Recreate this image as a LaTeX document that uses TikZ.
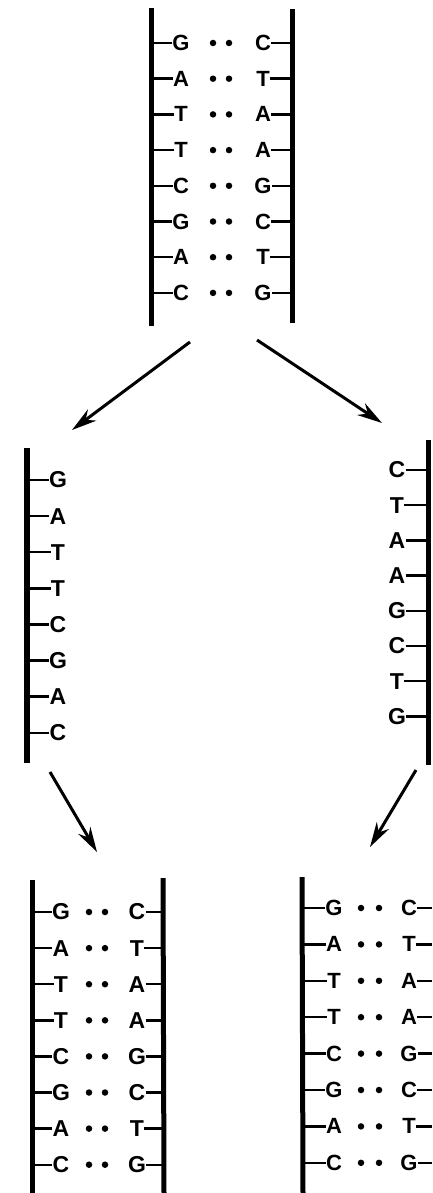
\documentclass[tikz,border=0pt]{standalone}
\usepackage{fontspec}
\setmainfont{Liberation Sans}
\usetikzlibrary{arrows.meta}

\begin{document}
\begin{tikzpicture}[
    x=1pt, y=-1pt,
    base/.style={font=\fontsize{22}{22}\selectfont\bfseries, inner sep=0pt},
    boldbase/.style={font=\fontsize{23}{23}\selectfont\bfseries, inner sep=0pt},
    pair/.style={circle, fill, inner sep=0pt, minimum size=6.5pt},
    rail/.style={line width=5pt},
    tick/.style={line width=2.4pt},
    arrow/.style={-{Stealth[length=25pt, width=14pt, inset=8pt]}, line width=3pt}
]
\useasboundingbox (0,0) rectangle (432,1193);

% parent double strand
\coordinate (tA) at (151,8);
\coordinate (tB) at (151,326);
\coordinate (tC) at (292,9);
\coordinate (tD) at (292,323);
\draw[rail] (tA) -- (tB);
\draw[rail] (tC) -- (tD);
\foreach \l/\r [count=\i from 0] in {G/C,A/T,T/A,T/A,C/G,G/C,A/T,C/G} {
  \node[base] (tl\i) at (181,{43+35.7*\i}) {\l};
  \node[base] (tr\i) at (263,{43+35.7*\i}) {\r};
  \node[pair] (tp\i) at (213,{43+35.7*\i}) {};
  \node[pair] (tq\i) at (229,{43+35.7*\i}) {};
  \draw[tick] (tl\i.west) -- (tl\i.west -| tA);
  \draw[tick] (tr\i.east) -- (tr\i.east -| tC);
}

% separated strands
\coordinate (mA) at (27,448);
\coordinate (mB) at (27,763);
\draw[rail, line width=6.5pt] (mA) -- (mB);
\foreach \l [count=\i from 0] in {G,A,T,T,C,G,A,C} {
  \node[boldbase] (ml\i) at (58,{480+36.1*\i}) {\l};
  \draw[tick] (ml\i.west) -- (ml\i.west -| mA);
}
\coordinate (mC) at (428,440);
\coordinate (mD) at (428,765);
\draw[rail] (mC) -- (mD);
\foreach \r [count=\i from 0] in {C,T,A,A,G,C,T,G} {
  \node[boldbase] (mr\i) at (397,{470+35.2*\i}) {\r};
  \draw[tick] (mr\i.east) -- (mr\i.east -| mC);
}

% daughter double strands
\coordinate (lA) at (32,880);
\coordinate (lB) at (32,1193);
\coordinate (lC) at (163,878);
\coordinate (lD) at (164,1193);
\draw[rail] (lA) -- (lB);
\draw[rail] (lC) -- (lD);
\foreach \l/\r [count=\i from 0] in {G/C,A/T,T/A,T/A,C/G,G/C,A/T,C/G} {
  \node[boldbase] (ll\i) at (61,{912+36.1*\i}) {\l};
  \node[boldbase] (lr\i) at (137,{912+36.1*\i}) {\r};
  \node[pair] (lp\i) at (89,{912+36.1*\i}) {};
  \node[pair] (lq\i) at (105,{912+36.1*\i}) {};
  \draw[tick] (ll\i.west) -- (ll\i.west -| lA);
  \draw[tick] (lr\i.east) -- (lr\i.east -| lC);
}

\coordinate (rA) at (302,877);
\coordinate (rB) at (303,1193);
\coordinate (rC) at (432,877);
\draw[rail] (rA) -- (rB);
\foreach \l/\r [count=\i from 0] in {G/C,A/T,T/A,T/A,C/G,G/C,A/T,C/G} {
  \node[base] (rl\i) at (334,{908+36.4*\i}) {\l};
  \node[base] (rr\i) at (409,{908+36.4*\i}) {\r};
  \node[pair] (rp\i) at (361,{908+36.4*\i}) {};
  \node[pair] (rq\i) at (379,{908+36.4*\i}) {};
  \draw[tick] (rl\i.west) -- (rl\i.west -| rA);
  \draw[tick] (rr\i.east) -- (rr\i.east -| rC);
}

% arrows
\coordinate (s1) at (190,342);
\coordinate (e1) at (72,430);
\coordinate (s2) at (257,340);
\coordinate (e2) at (382,423);
\coordinate (s3) at (50,772);
\coordinate (e3) at (97,852);
\coordinate (s4) at (416,770);
\coordinate (e4) at (370,847);
\draw[arrow] (s1) -- (e1);
\draw[arrow] (s2) -- (e2);
\draw[arrow] (s3) -- (e3);
\draw[arrow] (s4) -- (e4);
\end{tikzpicture}
\end{document}
